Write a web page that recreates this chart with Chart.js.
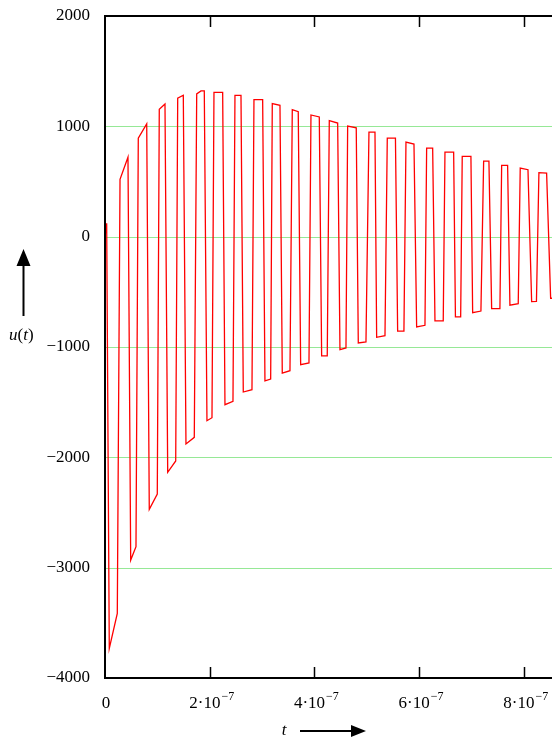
<!DOCTYPE html>
<html>
<head>
<meta charset="utf-8">
<script src="https://cdn.jsdelivr.net/npm/chart.js@4.4.0/dist/chart.umd.min.js"></script>
<style>
  html, body { margin: 0; padding: 0; background: #fff; }
  #wrap { width: 552px; height: 740px; position: relative; }
</style>
</head>
<body>
<div id="wrap"><canvas id="c" width="552" height="740"></canvas></div>
<script>
// time samples in nanoseconds
const timeNs = [0,3.2,8.2,23.5,28.7,43.9,49.1,59.2,63.6,79.7,84.6,99.9,103.7,114.6,119.8,135.1,138.9,149.6,154.7,170.6,175.2,183.4,189.7,194.8,204.4,208.2,224.8,229.2,244.5,248.3,259.8,264.2,280.8,284.6,301.2,305.6,316.5,319.6,334.3,338.7,353.4,357.8,369.2,373.8,389.7,393.5,409.4,413.9,424.6,428.5,444.5,448.9,460.4,463.6,480.0,483.9,498.6,504.3,515.8,519.0,534.9,539.3,554.9,559.1,571.1,575.0,590.3,595.4,611.3,614.5,626.0,630.4,646.2,649.5,666.1,669.5,679.5,682.5,699.1,702.4,718.2,723.4,733.5,738.7,754.5,757.8,769.2,773.6,789.5,793.3,808.1,815.1,824.3,829.0,843.7,851.4,859.6];
// u(t) values
const uValues = [0,121,-3732,-3414,520,720,-2931,-2810,892,1022,-2471,-2333,1155,1203,-2136,-2033,1255,1282,-1879,-1819,1294,1321,1321,-1668,-1641,1308,1308,-1523,-1493,1281,1281,-1408,-1387,1242,1242,-1306,-1290,1206,1190,-1236,-1215,1151,1133,-1160,-1145,1103,1085,-1081,-1081,1052,1030,-1024,-1009,1002,987,-963,-954,947,947,-912,-897,894,894,-857,-857,857,839,-818,-803,803,803,-763,-763,767,767,-727,-727,728,728,-689,-674,685,685,-652,-652,646,646,-621,-608,622,607,-589,-586,580,575,-559,-556];
const xTickValues = [0, 2e-7, 4e-7, 6e-7, 8e-7];
const xTickBase = ["0", "2·10", "4·10", "6·10", "8·10"];
const xTickExp = ["", "−7", "−7", "−7", "−7"];
const yTickValues = [2000, 1000, 0, -1000, -2000, -3000, -4000];
const xMin = 0, xMax = 8.54e-7, yMin = -4000, yMax = 2000;

const points = timeNs.map((t, i) => ({ x: t * 1e-9, y: uValues[i] }));
const SERIF = '"Liberation Serif", "DejaVu Serif", serif';
const GRID = 'rgb(150,232,150)';

function arrow(ctx, x1, y1, x2, y2, headLen, headW) {
  const ang = Math.atan2(y2 - y1, x2 - x1);
  const bx = x2 - headLen * Math.cos(ang), by = y2 - headLen * Math.sin(ang);
  ctx.beginPath();
  ctx.moveTo(x1, y1); ctx.lineTo(bx, by);
  ctx.lineWidth = 2; ctx.strokeStyle = '#000'; ctx.stroke();
  const px = -Math.sin(ang) * headW / 2, py = Math.cos(ang) * headW / 2;
  ctx.beginPath();
  ctx.moveTo(x2, y2); ctx.lineTo(bx + px, by + py); ctx.lineTo(bx - px, by - py);
  ctx.closePath(); ctx.fillStyle = '#000'; ctx.fill();
}

const gridPlugin = {
  id: 'gridPlugin',
  beforeDatasetsDraw(chart) {
    const ctx = chart.ctx, a = chart.chartArea, ys = chart.scales.y;
    ctx.save();
    ctx.strokeStyle = GRID; ctx.lineWidth = 1;
    yTickValues.forEach(v => {
      if (v === yMax || v === yMin) return;
      const py = Math.round(ys.getPixelForValue(v)) + 0.5;
      ctx.beginPath(); ctx.moveTo(a.left, py); ctx.lineTo(a.right, py); ctx.stroke();
    });
    ctx.restore();
  }
};

const decor = {
  id: 'decor',
  afterDraw(chart) {
    const ctx = chart.ctx, a = chart.chartArea, xs = chart.scales.x;
    ctx.save();
    // frame: top, bottom and left lines
    ctx.beginPath();
    ctx.moveTo(a.right, a.top); ctx.lineTo(a.left, a.top);
    ctx.lineTo(a.left, a.bottom); ctx.lineTo(a.right, a.bottom);
    ctx.lineWidth = 2; ctx.strokeStyle = '#000'; ctx.stroke();
    // inward ticks top & bottom
    xTickValues.forEach(v => {
      if (v === 0) return;
      const px = Math.round(xs.getPixelForValue(v)) + 0.5;
      ctx.beginPath();
      ctx.moveTo(px, a.top); ctx.lineTo(px, a.top + 11);
      ctx.moveTo(px, a.bottom); ctx.lineTo(px, a.bottom - 11);
      ctx.lineWidth = 1.5; ctx.stroke();
    });
    // x tick labels with superscripts
    ctx.fillStyle = '#000'; ctx.textBaseline = 'middle';
    xTickValues.forEach((v, i) => {
      const px = xs.getPixelForValue(v);
      ctx.font = '17px ' + SERIF;
      const wb = ctx.measureText(xTickBase[i]).width;
      ctx.font = '12px ' + SERIF;
      const we = xTickExp[i] ? ctx.measureText(xTickExp[i]).width + 1 : 0;
      let x0 = px - (wb + we) / 2 + (i === 0 ? 1 : 2);
      ctx.textAlign = 'left';
      ctx.font = '17px ' + SERIF;
      ctx.fillText(xTickBase[i], x0, 704);
      if (xTickExp[i]) {
        ctx.font = '12px ' + SERIF;
        ctx.fillText(xTickExp[i], x0 + wb + 1, 697);
      }
    });
    // x axis title and arrow
    ctx.font = 'italic 17px ' + SERIF; ctx.textAlign = 'center';
    ctx.fillText('t', 284, 731);
    arrow(ctx, 300, 731, 366, 731, 15, 12);
    // y axis title and arrow
    ctx.textAlign = 'left';
    let x = 9; const yy = 336;
    const parts = [['u', true], ['(', false], ['t', true], [')', false]];
    parts.forEach(([s, it]) => {
      ctx.font = (it ? 'italic ' : '') + '17px ' + SERIF;
      ctx.fillText(s, x, yy);
      x += ctx.measureText(s).width;
    });
    arrow(ctx, 23.5, 316, 23.5, 249, 17, 14);
    ctx.restore();
  }
};

new Chart(document.getElementById('c'), {
  type: 'line',
  data: {
    datasets: [{
      data: points,
      borderColor: 'rgb(255,0,0)',
      borderWidth: 1.3,
      pointRadius: 0,
      tension: 0,
      fill: false
    }]
  },
  options: {
    responsive: false,
    animation: false,
    devicePixelRatio: 1,
    layout: { padding: { top: 16, right: 0, left: 0, bottom: 0 } },
    plugins: { legend: { display: false }, tooltip: { enabled: false } },
    scales: {
      x: {
        type: 'linear', min: xMin, max: xMax,
        afterBuildTicks: s => { s.ticks = xTickValues.map(v => ({ value: v })); },
        afterFit: s => { s.height = 62; s.paddingLeft = 0; s.paddingRight = 0; },
        ticks: { display: false },
        grid: { display: false },
        border: { display: false }
      },
      y: {
        type: 'linear', min: yMin, max: yMax,
        afterBuildTicks: s => { s.ticks = yTickValues.map(v => ({ value: v })); },
        afterFit: s => { s.width = 105; s.paddingTop = 0; s.paddingBottom = 0; },
        ticks: {
          color: '#000', padding: 7,
          font: { family: SERIF, size: 17 },
          callback: v => (v < 0 ? '−' + Math.abs(v) : String(v))
        },
        grid: { display: false },
        border: { display: false }
      }
    }
  },
  plugins: [gridPlugin, decor]
});
</script>
</body>
</html>
